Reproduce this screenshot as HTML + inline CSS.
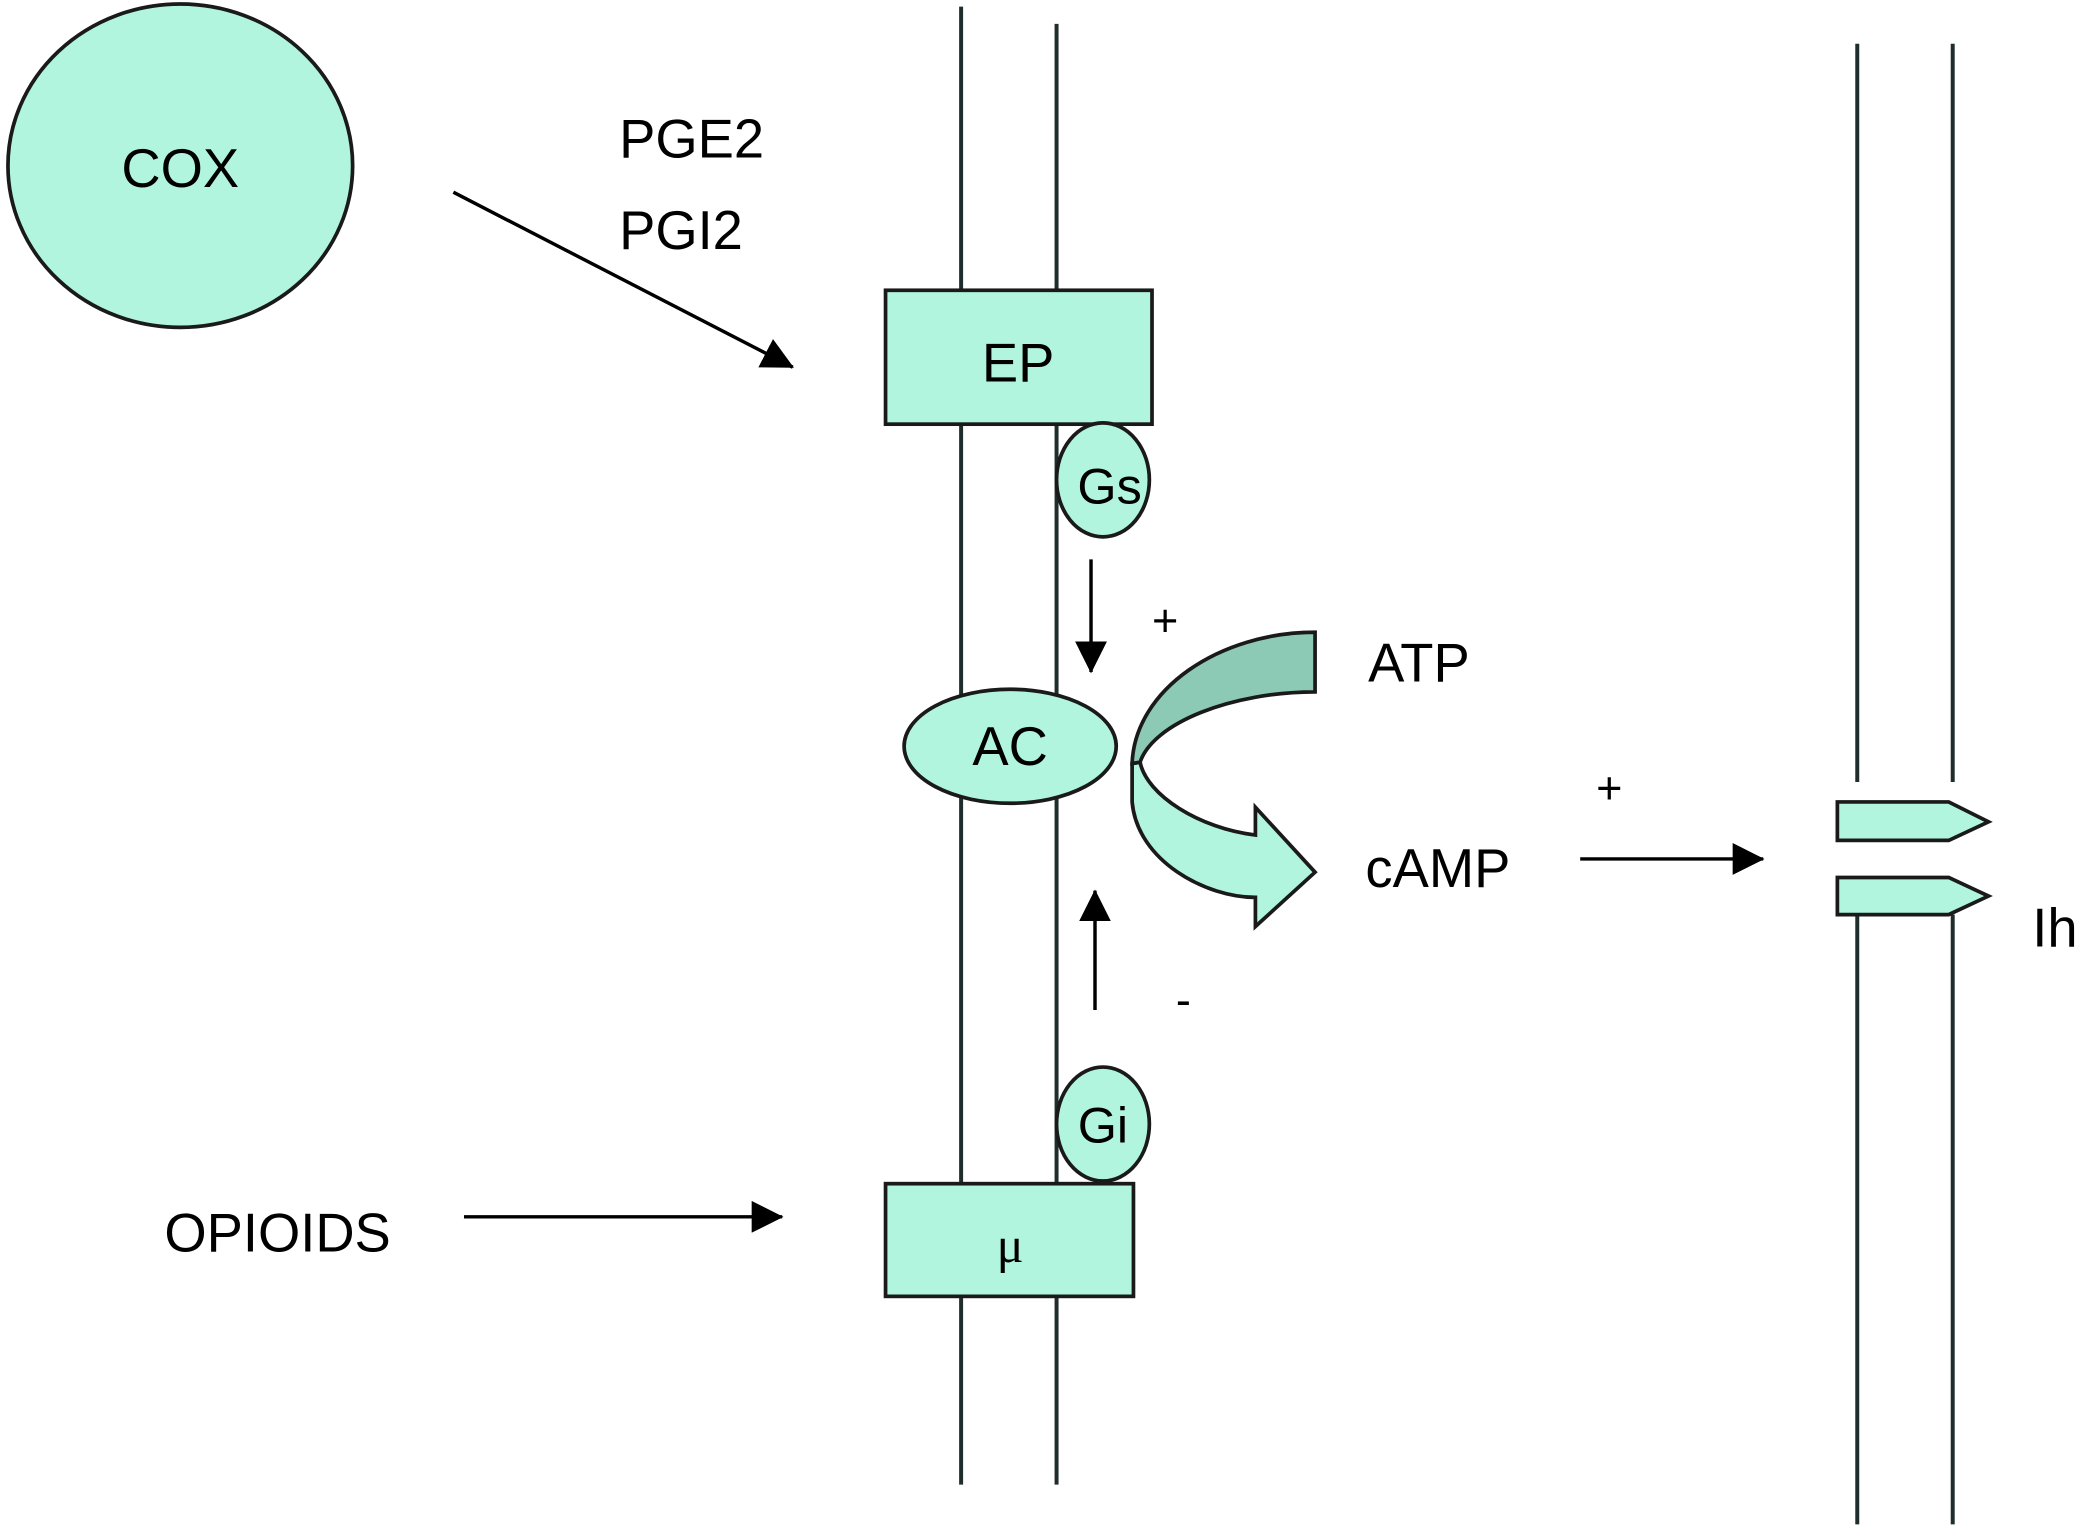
<!DOCTYPE html>
<html><head><meta charset="utf-8"><style>html,body{margin:0;padding:0;background:#fff}svg{display:block}</style></head>
<body>
<svg width="2076" height="1527" viewBox="0 0 1566 1152" preserveAspectRatio="none" xmlns="http://www.w3.org/2000/svg" font-family="Liberation Sans, sans-serif">
<defs>
<marker id="b" markerWidth="24" markerHeight="24" refX="23" refY="12" orient="auto" markerUnits="userSpaceOnUse" viewBox="0 0 24 24"><path d="M0,0 L24,12 L0,24 z" fill="#000"/></marker></defs>
<g stroke="#1f2d2d" stroke-width="3" fill="none">
<line x1="725" y1="5" x2="725" y2="1120"/><line x1="797" y1="18" x2="797" y2="1120"/>
<line x1="1401" y1="33" x2="1401" y2="590"/><line x1="1473" y1="33" x2="1473" y2="590"/>
<line x1="1401" y1="690" x2="1401" y2="1150"/><line x1="1473" y1="690" x2="1473" y2="1150"/>
</g>
<g stroke="#1a1a1a" stroke-width="2.8" fill="#b2f5df">
<ellipse cx="136" cy="125" rx="130" ry="122"/>
<rect x="668" y="219" width="201" height="101"/>
<ellipse cx="832" cy="362" rx="35" ry="43"/>
<ellipse cx="762" cy="563" rx="80" ry="43"/>
<ellipse cx="832" cy="848" rx="35" ry="43"/>
<rect x="668" y="893" width="187" height="85"/>
<path d="M1386,605 L1470,605 L1500,620 L1470,634 L1386,634 z"/>
<path d="M1386,662 L1470,662 L1500,676 L1470,690 L1386,690 z"/>
<path d="M854,576 L854,605 C858,650 910,677 947,677 L947,699 L992,658 L947,609 L947,630 C905,625 865,600 860,575 z"/>
<path d="M992,477 L992,522 C930,522 870,545 860,575 L854,576 C856,520 920,477 992,477 z" fill="#8ccab5"/>
</g>
<g stroke="#000" stroke-width="2.6">
<line x1="342" y1="145" x2="598" y2="277" marker-end="url(#b)"/>
<line x1="823" y1="422" x2="823" y2="507" marker-end="url(#b)"/>
<line x1="826" y1="762" x2="826" y2="672" marker-end="url(#b)"/>
<line x1="1192" y1="648" x2="1330" y2="648" marker-end="url(#b)"/>
<line x1="350" y1="918" x2="590" y2="918" marker-end="url(#b)"/>
</g>
<g font-size="41" fill="#000">
<text x="136" y="141" text-anchor="middle">COX</text>
<text x="467" y="119">PGE2</text>
<text x="467" y="188">PGI2</text>
<text x="768" y="288" text-anchor="middle">EP</text>
<text x="837" y="380" text-anchor="middle" font-size="38">Gs</text>
<text x="762" y="577" text-anchor="middle">AC</text>
<text x="832" y="862" text-anchor="middle" font-size="38">Gi</text>
<text x="1032" y="514">ATP</text>
<text x="1030" y="669">cAMP</text>
<text x="1533" y="714">Ih</text>
<text x="124" y="944">OPIOIDS</text>
<text x="869" y="480" font-size="34">+</text>
<text x="1204" y="606" font-size="34">+</text>
<text x="887" y="766" font-size="34">-</text>
<text x="762" y="952" text-anchor="middle" font-family="Liberation Serif, serif" font-size="38">μ</text>
</g>
</svg>
</body></html>
